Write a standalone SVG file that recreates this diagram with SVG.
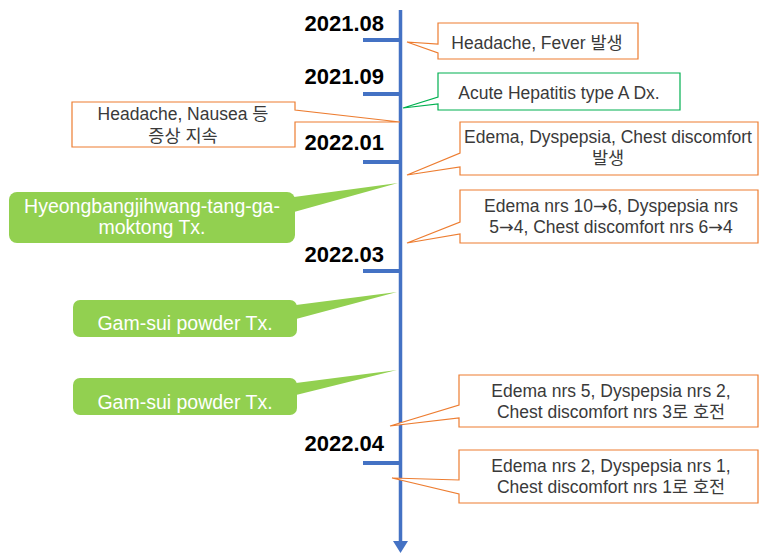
<svg xmlns="http://www.w3.org/2000/svg" width="762" height="554" viewBox="0 0 762 554">
<style>
.date{font-family:"Liberation Sans","Noto Sans CJK KR",sans-serif;font-weight:bold;font-size:22px;fill:#000;text-anchor:end}
.t{font-family:"Liberation Sans","Noto Sans CJK KR",sans-serif;font-size:17.5px;fill:#3a3a3a;text-anchor:middle}
.w{font-family:"Liberation Sans","Noto Sans CJK KR",sans-serif;font-size:19.5px;fill:#fff;text-anchor:middle}
.ar{font-family:"DejaVu Sans",sans-serif}
.ob{fill:#fff;stroke:#ED7D31;stroke-width:1.2}
.gb{fill:#fff;stroke:#00B050;stroke-width:1.2}
.gf{fill:#92D050;stroke:none}
.axis{stroke:#4472C4;stroke-width:3.5;fill:none}
.tick{stroke:#4472C4;stroke-width:4}
</style>
<g id="timeline">
<line class="axis" x1="400.5" y1="10" x2="400.5" y2="543"/>
<polygon points="393,541 408,541 400.5,553" fill="#4472C4"/>
<line class="tick" x1="363" y1="40" x2="400" y2="40"/>
<line class="tick" x1="363" y1="94" x2="400" y2="94"/>
<line class="tick" x1="363" y1="162" x2="400" y2="162"/>
<line class="tick" x1="363" y1="271" x2="400" y2="271"/>
<line class="tick" x1="363" y1="463" x2="400" y2="463"/>
<text class="date" x="384" y="31">2021.08</text>
<text class="date" x="384" y="84">2021.09</text>
<text class="date" x="384" y="150">2022.01</text>
<text class="date" x="384" y="262">2022.03</text>
<text class="date" x="384" y="451">2022.04</text>
</g>
<g id="n1">
<path class="ob" d="M438,23 H638 V59 H438 V53 L407,42 L438,44 Z"/>
<text class="t" x="537" y="49">Headache, Fever 발생</text>
</g>
<g id="n2">
<path class="gb" d="M438,73 H680 V110 H438 V104 L403,108 L438,97 Z"/>
<text class="t" x="559" y="99">Acute Hepatitis type A Dx.</text>
</g>
<g id="n3">
<path class="ob" d="M72,102 H295 V110 L400,122 L295,122 V147 H72 Z"/>
<text class="t" x="183" y="120">Headache, Nausea 등</text>
<text class="t" x="183" y="142">증상 지속</text>
</g>
<g id="n4">
<rect class="gf" x="9" y="192" width="286" height="51" rx="8"/>
<polygon class="gf" points="294,197 398,183 294,212"/>
<text class="w" x="152" y="213">Hyeongbangjihwang-tang-ga-</text>
<text class="w" x="152" y="234">moktong Tx.</text>
</g>
<g id="n5">
<path class="ob" d="M460,122 H758 V175 H460 V167 L407,175 L460,153 Z"/>
<text class="t" x="608" y="143">Edema, Dyspepsia, Chest discomfort</text>
<text class="t" x="608" y="164">발생</text>
</g>
<g id="n6">
<path class="ob" d="M460,190 H758 V243 H460 V234 L407,243 L460,222 Z"/>
<text class="t" x="611" y="212">Edema nrs 10<tspan class="ar">→</tspan>6, Dyspepsia nrs</text>
<text class="t" x="611" y="233">5<tspan class="ar">→</tspan>4, Chest discomfort nrs 6<tspan class="ar">→</tspan>4</text>
</g>
<g id="n7">
<rect class="gf" x="73" y="300" width="224" height="37" rx="7"/>
<polygon class="gf" points="296,305 397,292 296,319"/>
<text class="w" x="185" y="330">Gam-sui powder Tx.</text>
</g>
<g id="n8">
<rect class="gf" x="73" y="378" width="224" height="37" rx="7"/>
<polygon class="gf" points="296,383 397,370 296,395"/>
<text class="w" x="185" y="409">Gam-sui powder Tx.</text>
</g>
<g id="n9">
<path class="ob" d="M459,375 H758 V427 H459 V418 L390,426 L459,405 Z"/>
<text class="t" x="611" y="397">Edema nrs 5, Dyspepsia nrs 2,</text>
<text class="t" x="611" y="418">Chest discomfort nrs 3로 호전</text>
</g>
<g id="n10">
<path class="ob" d="M459,450 H758 V503 H459 V494 L392,478 L459,480 Z"/>
<text class="t" x="611" y="472">Edema nrs 2, Dyspepsia nrs 1,</text>
<text class="t" x="611" y="493">Chest discomfort nrs 1로 호전</text>
</g>
</svg>
